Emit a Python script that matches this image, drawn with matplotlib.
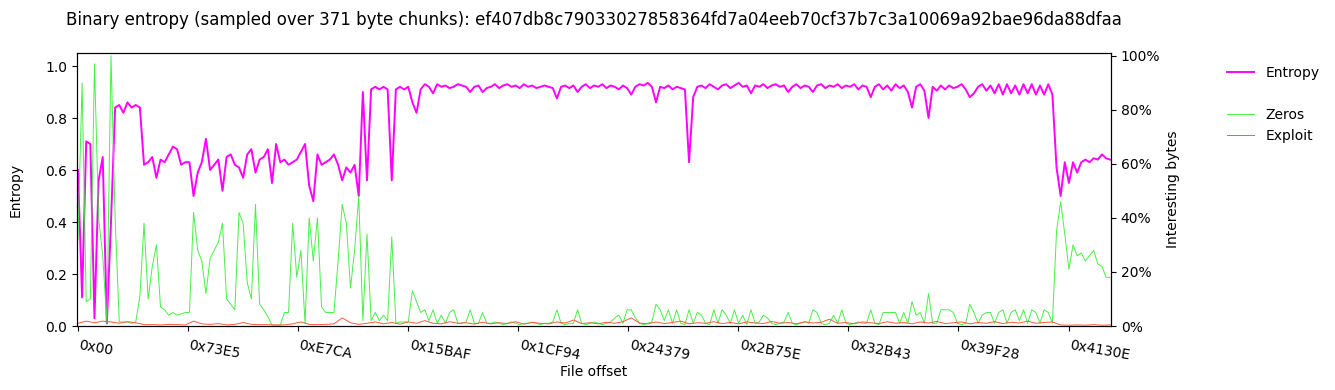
import matplotlib
matplotlib.use('Agg')
import matplotlib.pyplot as plt
from matplotlib.lines import Line2D
from matplotlib.ticker import PercentFormatter
import numpy as np

sha256     = "ef407db8c79033027858364fd7a04eeb70cf37b7c3a10069a92bae96da88dfaa"
chunk_size = 371

# one entropy / zeros value every 3 chunks, one exploit value every 6 chunks
entropy = [
    0.60, 0.11, 0.71, 0.70, 0.03, 0.56, 0.65, 0.01, 0.40, 0.84,
    0.85, 0.82, 0.86, 0.84, 0.85, 0.84, 0.62, 0.63, 0.65, 0.57,
    0.64, 0.63, 0.66, 0.69, 0.68, 0.62, 0.63, 0.63, 0.50, 0.59,
    0.63, 0.72, 0.60, 0.62, 0.64, 0.52, 0.65, 0.66, 0.62, 0.61,
    0.57, 0.66, 0.68, 0.59, 0.64, 0.65, 0.68, 0.55, 0.70, 0.63,
    0.64, 0.62, 0.63, 0.64, 0.67, 0.70, 0.54, 0.48, 0.66, 0.62,
    0.63, 0.64, 0.66, 0.62, 0.56, 0.61, 0.59, 0.62, 0.50, 0.90,
    0.56, 0.91, 0.92, 0.91, 0.92, 0.91, 0.56, 0.91, 0.92, 0.91,
    0.92, 0.86, 0.82, 0.91, 0.93, 0.92, 0.895, 0.93, 0.92, 0.925,
    0.915, 0.92, 0.93, 0.925, 0.92, 0.90, 0.92, 0.925, 0.90, 0.915,
    0.92, 0.93, 0.915, 0.925, 0.93, 0.92, 0.925, 0.915, 0.93, 0.92,
    0.925, 0.915, 0.92, 0.925, 0.92, 0.915, 0.875, 0.92, 0.925, 0.915,
    0.925, 0.90, 0.92, 0.93, 0.915, 0.925, 0.92, 0.93, 0.915, 0.925,
    0.92, 0.91, 0.925, 0.915, 0.89, 0.92, 0.93, 0.925, 0.935, 0.92,
    0.86, 0.92, 0.915, 0.925, 0.91, 0.92, 0.915, 0.91, 0.63, 0.88,
    0.92, 0.925, 0.915, 0.93, 0.92, 0.91, 0.925, 0.93, 0.915, 0.925,
    0.935, 0.92, 0.925, 0.895, 0.925, 0.92, 0.93, 0.915, 0.925, 0.93,
    0.92, 0.925, 0.90, 0.92, 0.93, 0.915, 0.925, 0.92, 0.90, 0.925,
    0.93, 0.915, 0.925, 0.92, 0.93, 0.915, 0.925, 0.92, 0.93, 0.91,
    0.925, 0.92, 0.88, 0.92, 0.93, 0.91, 0.925, 0.905, 0.93, 0.915,
    0.925, 0.90, 0.84, 0.92, 0.93, 0.905, 0.80, 0.92, 0.905, 0.925,
    0.91, 0.925, 0.915, 0.92, 0.93, 0.91, 0.88, 0.895, 0.92, 0.93,
    0.905, 0.925, 0.895, 0.93, 0.89, 0.93, 0.895, 0.925, 0.89, 0.93,
    0.895, 0.93, 0.89, 0.925, 0.89, 0.93, 0.89, 0.61, 0.50, 0.63,
    0.55, 0.63, 0.59, 0.63, 0.64, 0.63, 0.645, 0.64, 0.66, 0.645,
    0.64,
]

zeros_pct = [
    32, 90, 9, 10, 97, 40, 26, 1, 100, 40,
    1.5, 1.5, 1.5, 1.0, 1.5, 11, 38, 10, 22, 30,
    7, 6, 4, 5, 4, 4.5, 5, 5, 42, 28,
    24, 12, 25, 28, 31, 38, 10, 8, 6, 42,
    38, 16, 10, 45, 8, 6, 3.5, 0.3, 0.3, 0.3,
    5, 5, 38, 18, 28, 1, 40, 24, 40, 7,
    5, 5, 5, 24, 45, 38, 14, 28, 48, 2,
    34, 2, 5, 2, 4, 2, 33, 1, 1.5, 1.5,
    1.5, 13, 9, 5, 6, 2, 6, 1, 4, 1,
    5, 6, 1, 1, 1.5, 6, 1, 1, 5, 1,
    1, 1.5, 1, 0.5, 1, 1.5, 1, 0.5, 1, 1,
    1.5, 1, 0.5, 1, 1, 1.5, 6, 1, 0.5, 1,
    1, 6, 1, 0.5, 1, 1.5, 1, 0.5, 1, 1.5,
    3, 4, 1, 6, 6, 3, 1, 0.5, 1, 1.5,
    8, 6, 2, 6, 1, 6, 1, 0.5, 6, 1,
    5, 4, 1, 0.5, 6, 1, 6, 4, 1, 6,
    1, 4, 0.5, 6, 1, 1.5, 4, 3, 1, 0.5,
    1, 1.5, 5, 1, 0.5, 1, 1.5, 1, 6, 5,
    1, 0.5, 1, 4, 1, 6, 1, 0.5, 1, 1.5,
    1, 1, 6, 1, 0.5, 5, 5, 5, 5, 1,
    5, 1, 9, 4, 5, 1, 12, 1, 1, 6,
    6, 6, 5, 1, 0.5, 1, 8, 5, 1, 4,
    5, 5, 1, 5, 6, 1, 5, 6, 2, 6,
    1, 6, 5, 1, 6, 5, 1, 35, 46, 34,
    21, 30, 26, 27, 24, 26, 28, 23, 22, 18,
    18,
]

exploit_pct = [
    1.0, 1.8, 1.2, 1.8, 1.5, 1.0, 1.6, 1.2, 0.5, 0.5,
    0.4, 0.6, 0.5, 0.4, 1.8, 0.8, 0.6, 0.9, 0.4, 0.6,
    1.3, 0.6, 0.5, 0.5, 0.4, 0.4, 0.8, 1.5, 0.6, 0.5,
    0.6, 0.8, 3.0, 1.2, 0.6, 1.0, 1.5, 0.8, 1.3, 0.7,
    1.5, 1.0, 2.0, 1.0, 0.8, 1.6, 1.0, 1.2, 0.7, 1.4,
    0.8, 1.2, 0.9, 1.6, 0.7, 1.3, 1.0, 0.8, 1.5, 1.1,
    2.2, 0.9, 1.2, 0.8, 1.4, 1.0, 1.6, 3.0, 1.1, 0.8,
    1.5, 0.9, 1.3, 1.8, 0.8, 1.2, 1.0, 1.6, 0.9, 1.3,
    0.8, 1.5, 1.1, 0.9, 1.7, 1.0, 1.3, 0.8, 1.6, 1.1,
    1.4, 2.5, 1.0, 1.3, 0.8, 1.5, 1.2, 0.9, 1.6, 1.0,
    1.3, 0.8, 1.5, 1.1, 1.7, 0.9, 1.2, 1.5, 0.8, 1.3,
    1.0, 1.6, 0.9, 1.4, 1.1, 1.8, 1.0, 1.3, 1.5, 0.4,
    0.3, 0.4, 0.3, 0.5, 0.3, 0.4,
]

tick_labels = ['0x00', '0x73E5', '0xE7CA', '0x15BAF', '0x1CF94',
               '0x24379', '0x2B75E', '0x32B43', '0x39F28', '0x4130E']


def main():

    fig = plt.figure(figsize=(13.35, 3.9), dpi=100)
    ax  = fig.add_axes([0.0577, 0.1641, 0.7745, 0.7000])
    ax2 = ax.twinx()

    #file offsets of each sampled value
    x_ent = np.arange(len(entropy)) * 3 * chunk_size
    x_exp = np.arange(len(exploit_pct)) * 6 * chunk_size

    ent_line, = ax.plot(x_ent, entropy, color='#ff00ff', lw=1.4, label='Entropy')
    zer_line, = ax2.plot(x_ent, zeros_pct, color='#33ee33', lw=0.7, alpha=0.9, label='Zeros')
    exp_line, = ax2.plot(x_exp, exploit_pct, color='#ff5a3c', lw=0.7, label='Exploit')

    ax.set_ylim(0, 1.05)
    ax2.set_ylim(0, 101)
    ax.set_xlim(-250, 278460)
    ax2.yaxis.set_major_formatter(PercentFormatter(decimals=0))
    ax2.set_yticks([0, 20, 40, 60, 80, 100])

    ticks = [int(t, 16) for t in tick_labels]
    ax.set_xticks(ticks)
    ax.set_xticklabels(tick_labels, rotation=-10, ha='left', fontsize=10)
    ax.tick_params(axis='x', pad=5)

    ax.set_xlabel('File offset', labelpad=2)
    ax.set_ylabel('Entropy', labelpad=16)
    ax2.set_ylabel('Interesting bytes')
    ax.set_title('Binary entropy (sampled over %d byte chunks): %s' % (chunk_size, sha256),
                 fontsize=12, pad=20)

    blank = Line2D([], [], color='none')
    fig.legend([ent_line, blank, zer_line, exp_line],
               ['Entropy', '', 'Zeros', 'Exploit'],
               loc='upper left', bbox_to_anchor=(0.9095, 0.863), frameon=False)

    fig.savefig('out.png', dpi=100)


if __name__ == '__main__':

    main()
